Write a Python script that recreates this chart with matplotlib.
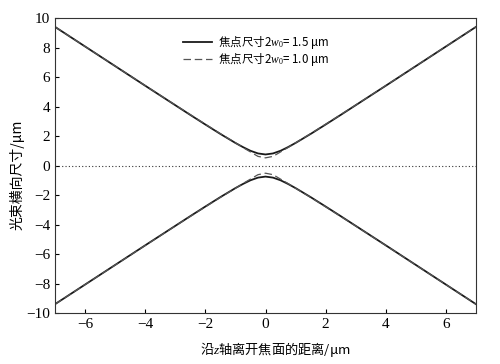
import numpy as np
import matplotlib
matplotlib.use("Agg")
import matplotlib.pyplot as plt

plt.rcParams['font.family'] = ['Liberation Serif', 'Noto Sans CJK SC', 'DejaVu Sans']
plt.rcParams['mathtext.fontset'] = 'custom'
plt.rcParams['mathtext.it'] = 'Liberation Serif:italic'
plt.rcParams['mathtext.rm'] = 'Liberation Serif'

# distance from focal plane (positive half, mirrored)
z_half = [0, 0.25, 0.5, 0.75, 1, 1.5, 2, 2.5, 3, 3.5, 4, 5, 6, 7]
# beam half-width, 2w0 = 1.5 um
w_solid_half = [0.75, 0.82, 1.00, 1.25, 1.53, 2.14, 2.78, 3.43, 4.09, 4.75, 5.41, 6.74, 8.07, 9.40]
# beam half-width, 2w0 = 1.0 um
w_dash_half = [0.52, 0.62, 0.92, 1.22, 1.54, 2.16, 2.80, 3.45, 4.10, 4.76, 5.42, 6.75, 8.07, 9.40]

label_solid = '焦点尺寸2$w_0$= 1.5 μm'
label_dash = '焦点尺寸2$w_0$= 1.0 μm'
xlabel = '沿$z$轴离开焦面的距离/μm'
ylabel = '光束横向尺寸/μm'
xticks = [-6, -4, -2, 0, 2, 4, 6]
yticks = [-10, -8, -6, -4, -2, 0, 2, 4, 6, 8, 10]

cjk = ['Noto Sans CJK SC', 'Liberation Serif', 'DejaVu Sans']

z_half = np.array(z_half)
z = np.concatenate([-z_half[::-1], z_half[1:]])
ws = np.array(w_solid_half)
wd = np.array(w_dash_half)
w_s = np.concatenate([ws[::-1], ws[1:]])
w_d = np.concatenate([wd[::-1], wd[1:]])

fig = plt.figure(figsize=(5.0, 3.64), dpi=100)
ax = fig.add_axes([0.11, 0.14, 0.842, 0.8105])

ax.plot(z, w_s, color='#1a1a1a', lw=1.3, label=label_solid)
ax.plot(z, w_d, color='#555555', lw=0.9, ls=(0, (6, 3)), label=label_dash)
ax.plot(z, -w_s, color='#1a1a1a', lw=1.3)
ax.plot(z, -w_d, color='#555555', lw=0.9, ls=(0, (6, 3)))
ax.axhline(0, color='#333333', lw=0.8, ls=(0, (1, 2)))

ax.set_xlim(-7, 7)
ax.set_ylim(-10, 10)
ax.set_xticks(xticks)
ax.set_yticks(yticks)
ax.tick_params(direction='in', top=False, right=False, labelsize=11, length=3, width=0.8)
for s in ax.spines.values():
    s.set_linewidth(0.8)
    s.set_color('#333333')

ax.set_xlabel(xlabel, fontsize=9.5, family=cjk)
ax.set_ylabel(ylabel, fontsize=10, family=cjk)
ax.xaxis.set_label_coords(0.523, -0.093)
ax.yaxis.set_label_coords(-0.072, 0.47)

leg = ax.legend(loc='upper left', bbox_to_anchor=(0.28, 0.98), frameon=False,
                prop={'family': cjk, 'size': 8.3}, handlelength=2.5,
                labelspacing=-0.05, handletextpad=0.5)

fig.savefig('out.png', dpi=100, facecolor='white')
